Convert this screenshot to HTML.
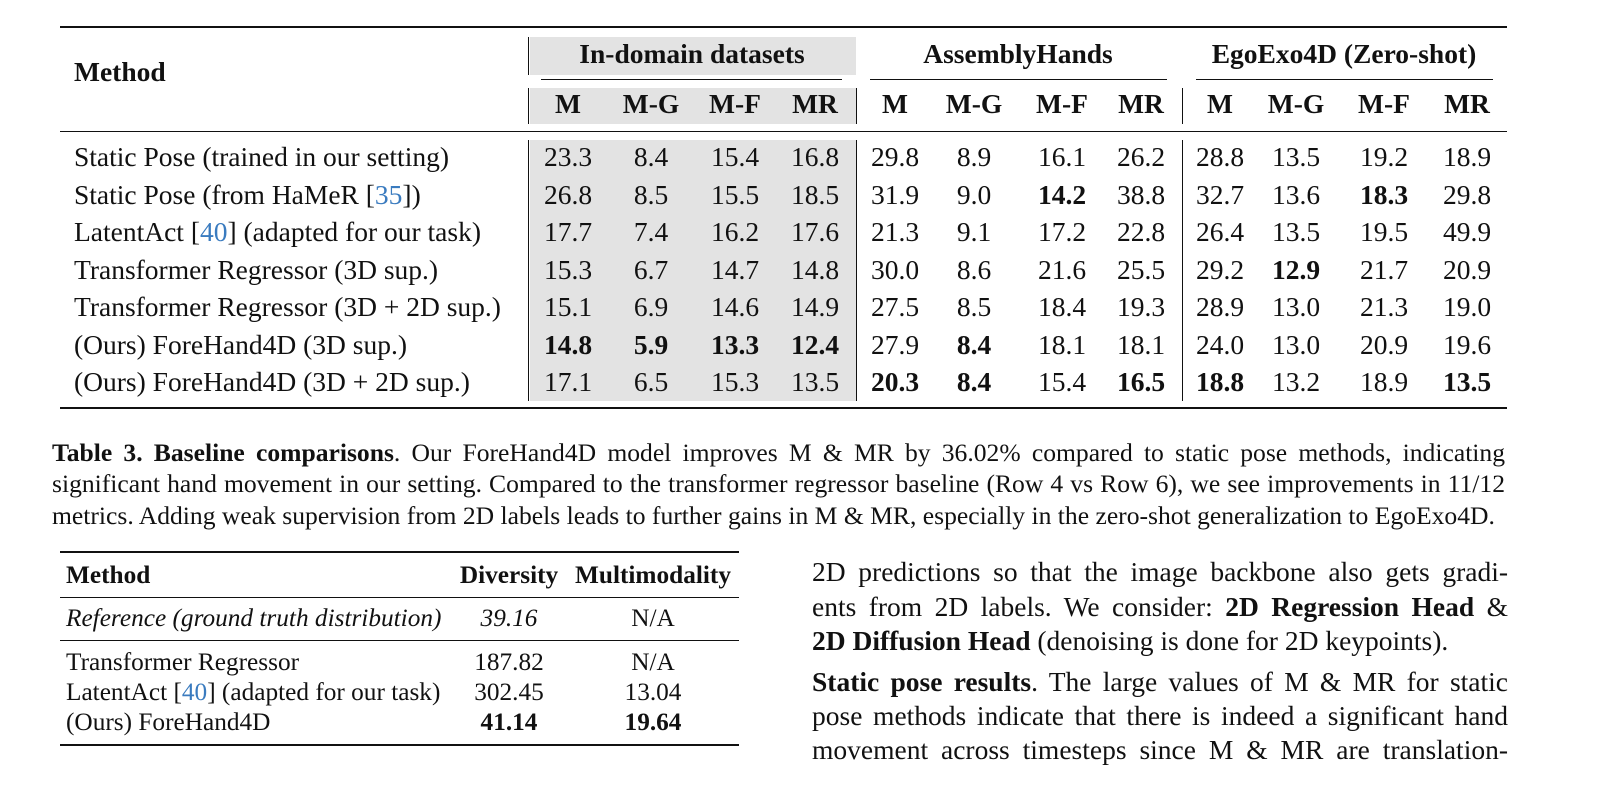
<!DOCTYPE html>
<html><head><meta charset="utf-8"><style>
body{margin:0;background:#fff;width:1601px;height:790px;position:relative;overflow:hidden;font-family:"Liberation Serif",serif;color:#111}
.a{position:absolute;white-space:nowrap}
.r{position:absolute;background:#111}
.g{position:absolute;background:#e3e3e3}
.c{position:absolute;transform:translateX(-50%);white-space:nowrap}
.t1{font-size:27.5px;line-height:30px}
.j{position:absolute;text-align:justify;text-align-last:justify;white-space:nowrap}
b{font-weight:bold}
.cite{color:#3a7bbf}
</style></head><body>
<div class="r" style="left:60px;top:26px;width:1447px;height:2px"></div>
<div class="g" style="left:530px;top:37px;width:326px;height:38px"></div>
<div class="g" style="left:530px;top:88px;width:326px;height:36px"></div>
<div class="g" style="left:530px;top:140px;width:326px;height:261px"></div>
<div class="r" style="left:528px;top:37px;width:1px;height:38px"></div>
<div class="r" style="left:528px;top:88px;width:1px;height:36px"></div>
<div class="r" style="left:856px;top:88px;width:1px;height:36px"></div>
<div class="r" style="left:1182px;top:88px;width:1px;height:36px"></div>
<div class="r" style="left:528px;top:140px;width:1px;height:261px"></div>
<div class="r" style="left:856px;top:140px;width:1px;height:261px"></div>
<div class="r" style="left:1182px;top:140px;width:1px;height:261px"></div>
<div class="r" style="left:541px;top:79px;width:301px;height:1px"></div>
<div class="r" style="left:870px;top:79px;width:297px;height:1px"></div>
<div class="r" style="left:1196px;top:79px;width:297px;height:1px"></div>
<div class="r" style="left:60px;top:131px;width:1447px;height:1px"></div>
<div class="r" style="left:60px;top:407px;width:1447px;height:2px"></div>
<div class="a t1" style="left:74px;top:57px"><b>Method</b></div>
<div class="c t1" style="left:692px;top:39px"><b>In-domain datasets</b></div>
<div class="c t1" style="left:1018px;top:39px"><b>AssemblyHands</b></div>
<div class="c t1" style="left:1344px;top:39px"><b>EgoExo4D (Zero-shot)</b></div>
<div id="tbl"></div>
<div class="j" style="left:52px;top:438px;width:1453px;font-size:25.6px;line-height:30px"><b>Table 3. Baseline comparisons</b>. Our ForeHand4D model improves M &amp; MR by 36.02% compared to static pose methods, indicating</div>
<div class="j" style="left:52px;top:469px;width:1453px;font-size:25.6px;line-height:30px">significant hand movement in our setting. Compared to the transformer regressor baseline (Row 4 vs Row 6), we see improvements in 11/12</div>
<div class="a" style="left:52px;top:501px;font-size:25.6px;line-height:30px">metrics. Adding weak supervision from 2D labels leads to further gains in M &amp; MR, especially in the zero-shot generalization to EgoExo4D.</div>
<div class="r" style="left:60px;top:551px;width:679px;height:2px"></div>
<div class="r" style="left:60px;top:597px;width:679px;height:1px"></div>
<div class="r" style="left:60px;top:640px;width:679px;height:1px"></div>
<div class="r" style="left:60px;top:744px;width:679px;height:2px"></div>
<div style="font-size:25.3px;line-height:26px">
<div class="a" style="left:66px;top:562px"><b>Method</b></div>
<div class="c" style="left:509px;top:562px"><b>Diversity</b></div>
<div class="c" style="left:653px;top:562px"><b>Multimodality</b></div>
<div class="a" style="left:66px;top:605px"><i>Reference (ground truth distribution)</i></div>
<div class="c" style="left:509px;top:605px"><i>39.16</i></div>
<div class="c" style="left:653px;top:605px">N/A</div>
<div class="a" style="left:66px;top:649px">Transformer Regressor</div>
<div class="c" style="left:509px;top:649px">187.82</div>
<div class="c" style="left:653px;top:649px">N/A</div>
<div class="a" style="left:66px;top:679px">LatentAct [<span class="cite">40</span>] (adapted for our task)</div>
<div class="c" style="left:509px;top:679px">302.45</div>
<div class="c" style="left:653px;top:679px">13.04</div>
<div class="a" style="left:66px;top:709px">(Ours) ForeHand4D</div>
<div class="c" style="left:509px;top:709px"><b>41.14</b></div>
<div class="c" style="left:653px;top:709px"><b>19.64</b></div>
</div>
<div style="font-size:27.5px;line-height:30px">
<div class="j" style="left:812px;top:557px;width:696px">2D predictions so that the image backbone also gets gradi-</div>
<div class="j" style="left:812px;top:592px;width:696px">ents from 2D labels. We consider: <b>2D Regression Head</b> &amp;</div>
<div class="a" style="left:812px;top:626px"><b>2D Diffusion Head</b> (denoising is done for 2D keypoints).</div>
<div class="j" style="left:812px;top:667px;width:696px"><b>Static pose results</b>. The large values of M &amp; MR for static</div>
<div class="j" style="left:812px;top:701px;width:696px">pose methods indicate that there is indeed a significant hand</div>
<div class="j" style="left:812px;top:735px;width:696px">movement across timesteps since M &amp; MR are translation-</div>
</div>
<script>
const methods=["Static Pose (trained in our setting)","Static Pose (from HaMeR [35])","LatentAct [40] (adapted for our task)","Transformer Regressor (3D sup.)","Transformer Regressor (3D + 2D sup.)","(Ours) ForeHand4D (3D sup.)","(Ours) ForeHand4D (3D + 2D sup.)"];
const subheads=["M","M-G","M-F","MR","M","M-G","M-F","MR","M","M-G","M-F","MR"];
const values=[
["23.3","8.4","15.4","16.8","29.8","8.9","16.1","26.2","28.8","13.5","19.2","18.9"],
["26.8","8.5","15.5","18.5","31.9","9.0","*14.2","38.8","32.7","13.6","*18.3","29.8"],
["17.7","7.4","16.2","17.6","21.3","9.1","17.2","22.8","26.4","13.5","19.5","49.9"],
["15.3","6.7","14.7","14.8","30.0","8.6","21.6","25.5","29.2","*12.9","21.7","20.9"],
["15.1","6.9","14.6","14.9","27.5","8.5","18.4","19.3","28.9","13.0","21.3","19.0"],
["*14.8","*5.9","*13.3","*12.4","27.9","*8.4","18.1","18.1","24.0","13.0","20.9","19.6"],
["17.1","6.5","15.3","13.5","*20.3","*8.4","15.4","*16.5","*18.8","13.2","18.9","*13.5"]];
const colX=[568,651,735,815,895,974,1062,1141,1220,1296,1384,1467];
const root=document.getElementById('tbl');
function mk(cls,x,y,html){const d=document.createElement('div');d.className=cls;d.style.left=x+'px';d.style.top=y+'px';d.innerHTML=html;root.appendChild(d);return d;}
subheads.forEach((s,i)=>{const d=mk('c t1',colX[i],89,'<b>'+s+'</b>');

});
methods.forEach((m,r)=>{const y=142+r*37.5;
const d=mk('a t1',74,y,m.replace(/\[(\d+)\]/,'[<span class="cite">$1</span>]'));


values[r].forEach((v,i)=>{const b=v[0]=='*';const e=mk('c t1',colX[i],y,b?'<b>'+v.slice(1)+'</b>':v);

});});
</script>
</body></html>
